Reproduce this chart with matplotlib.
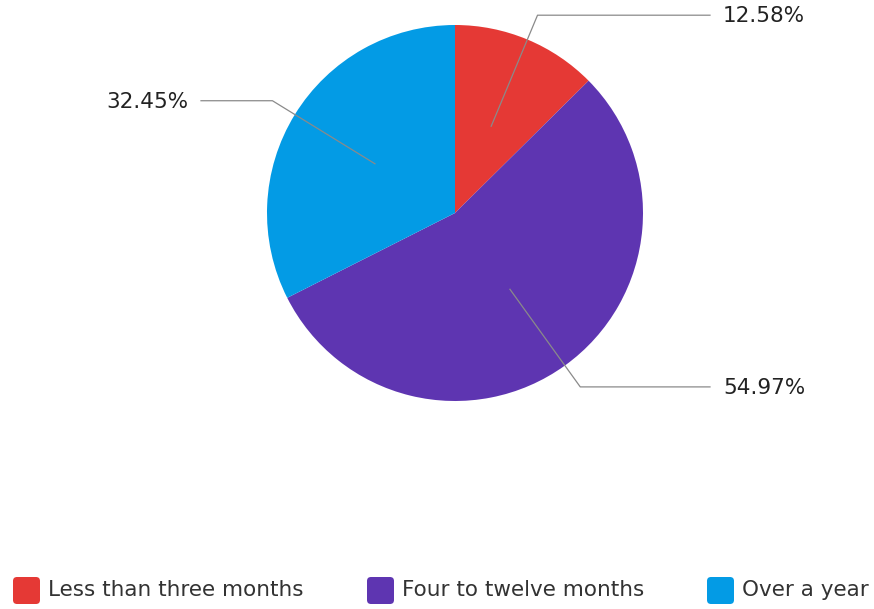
import matplotlib.pyplot as plt
from matplotlib.patches import FancyBboxPatch
import numpy as np

labels = ["Less than three months", "Four to twelve months", "Over a year"]
values = [12.58, 54.97, 32.45]
colors = ["#E53935", "#5E35B1", "#039BE5"]

W, H = 874, 609
cx, cy, r = 455, H - 213, 188

plt.rcParams['font.family'] = ['DejaVu Sans']

fig = plt.figure(figsize=(W / 100, H / 100), dpi=100)
ax = fig.add_axes([0, 0, 1, 1])

wedges, _ = ax.pie(values, colors=colors, startangle=90, counterclock=False,
                   center=(cx, cy), radius=r,
                   wedgeprops=dict(linewidth=0))
ax.set_xlim(0, W)
ax.set_ylim(0, H)
ax.set_aspect('equal')
ax.axis('off')

# leader lines + percent labels
for w, v in zip(wedges, values):
    ang = np.deg2rad((w.theta1 + w.theta2) / 2)
    x0, y0 = cx + 0.5 * r * np.cos(ang), cy + 0.5 * r * np.sin(ang)
    x1, y1 = cx + 1.14 * r * np.cos(ang), cy + 1.14 * r * np.sin(ang)
    if np.cos(ang) >= 0:
        x2, tx, ha = 710, 723, 'left'
    else:
        x2, tx, ha = 201, 188, 'right'
    ax.plot([x0, x1, x2], [y0, y1, y1], color='#8a8a8a', lw=0.9)
    ax.text(tx, y1 - 1, f"{v:.2f}%", ha=ha, va='center', fontsize=15.5,
            color='#222222')

# legend at bottom
leg_x = [13, 367, 707]
leg_y = H - 590
for x, lab, c in zip(leg_x, labels, colors):
    ax.add_patch(FancyBboxPatch((x + 3, leg_y - 11), 21, 21,
                                boxstyle="round,pad=3,rounding_size=4",
                                fc=c, ec='none'))
    ax.text(x + 35, leg_y, lab, ha='left', va='center', fontsize=15.5,
            color='#333333')

fig.savefig('out.png', dpi=100)
